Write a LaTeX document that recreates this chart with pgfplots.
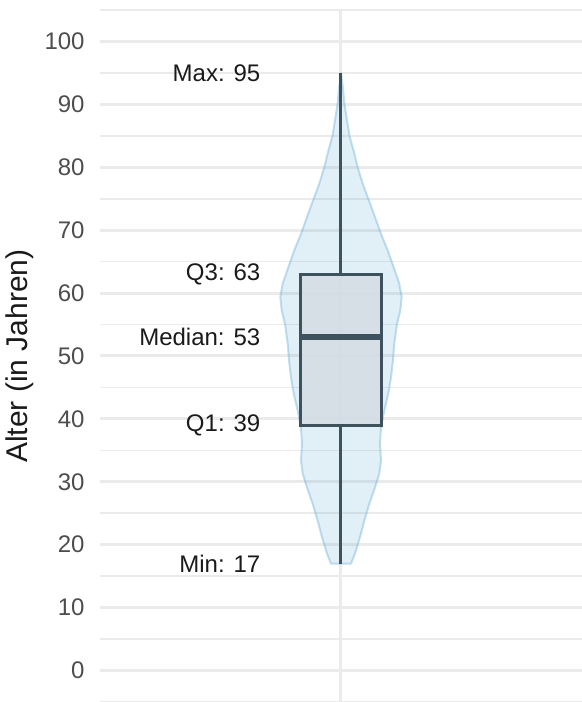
\documentclass[border=0pt]{standalone}
\usepackage{pgfplots}
\pgfplotsset{compat=1.18}
\usepackage{fontspec}
\setmainfont{Liberation Sans}
\definecolor{gridc}{HTML}{EBEBEB}
\definecolor{boxline}{HTML}{3D525C}
\definecolor{vfill}{HTML}{6BAED6}
\definecolor{boxfill}{HTML}{D5DDE4}
\definecolor{tickc}{HTML}{4D4D4D}
\definecolor{txt}{HTML}{1A1A1A}
\begin{document}
\begin{tikzpicture}
\begin{axis}[
  name=ax, scale only axis, width=241pt, height=346pt,
  xmin=0.4, xmax=1.6, ymin=-5, ymax=105,
  xtick={1}, xticklabels={},
  ytick={0,10,...,100},
  minor ytick={-5,5,...,105},
  xmajorgrids, ymajorgrids, yminorgrids,
  major grid style={draw=gridc, line width=1.5pt},
  minor grid style={draw=gridc, line width=0.8pt},
  axis line style={draw=none},
  major tick length=0pt, minor tick length=0pt,
  tick style={draw=none},
  /pgf/number format/assume math mode=true,
  yticklabel style={font=\fontsize{12}{14}\selectfont, text=tickc, inner sep=0pt, xshift=-7.5pt},
  ylabel={Alter (in Jahren)},
  ylabel style={font=\fontsize{15}{18}\selectfont, text=txt, at={(rel axis cs:-0.166,0.5)}, anchor=center, rotate=0},
  clip=false,
]
% violin
\addplot[draw=vfill, draw opacity=0.4, fill=vfill, fill opacity=0.2, line width=1pt, line join=round] coordinates {
(1.0249,17) (1.0349,18.6) (1.0473,21.2) (1.058,23.8) (1.0704,26.5) (1.0846,29.1) (1.0953,31.3) (1.0996,33.4) (1.0971,36.1) (1.0996,38.7) (1.1078,41.3) (1.1177,44) (1.1245,46.6) (1.1294,49.3) (1.1327,52) (1.1394,55.1) (1.1476,57.2) (1.1511,59.4) (1.1451,61.5) (1.1312,64.1) (1.1163,66.8) (1.0996,69.4) (1.0846,72.1) (1.0697,74.7) (1.054,77.4) (1.0416,80) (1.0311,82.7) (1.0212,85) (1.0149,87.5) (1.0087,90) (1.005,92.5) (1,95)
(0.995,92.5) (0.9913,90) (0.9851,87.5) (0.9788,85) (0.9689,82.7) (0.9584,80) (0.946,77.4) (0.9303,74.7) (0.9154,72.1) (0.9004,69.4) (0.8837,66.8) (0.8688,64.1) (0.8549,61.5) (0.8489,59.4) (0.8524,57.2) (0.8606,55.1) (0.8673,52) (0.8706,49.3) (0.8755,46.6) (0.8823,44) (0.8922,41.3) (0.9004,38.7) (0.9029,36.1) (0.9004,33.4) (0.9047,31.3) (0.9154,29.1) (0.9296,26.5) (0.942,23.8) (0.9527,21.2) (0.9651,18.6) (0.9751,17)
} -- cycle;
% whiskers
\addplot[draw=boxline, line width=1.5pt] coordinates {(1,17) (1,39)};
\addplot[draw=boxline, line width=1.5pt] coordinates {(1,63) (1,95)};
% box
\addplot[draw=boxline, fill=boxfill, fill opacity=0.85, line width=1.5pt, line join=miter] coordinates {(0.9,39) (1.1,39) (1.1,63) (0.9,63)} -- cycle;
% median
\addplot[draw=boxline, line width=2.8pt] coordinates {(0.9,53) (1.1,53)};
% labels
\node[anchor=east, inner sep=0pt, font=\fontsize{12}{14}\selectfont, text=txt] at (axis cs:0.8,95) {Max: 95};
\node[anchor=east, inner sep=0pt, font=\fontsize{12}{14}\selectfont, text=txt] at (axis cs:0.8,63) {Q3: 63};
\node[anchor=east, inner sep=0pt, font=\fontsize{12}{14}\selectfont, text=txt] at (axis cs:0.8,53) {Median: 53};
\node[anchor=east, inner sep=0pt, font=\fontsize{12}{14}\selectfont, text=txt] at (axis cs:0.8,39) {Q1: 39};
\node[anchor=east, inner sep=0pt, font=\fontsize{12}{14}\selectfont, text=txt] at (axis cs:0.8,17) {Min: 17};
\end{axis}
\pgfresetboundingbox
\path ([xshift=-50pt]ax.south west) rectangle ([yshift=5pt]ax.north east);
\end{tikzpicture}
\end{document}
